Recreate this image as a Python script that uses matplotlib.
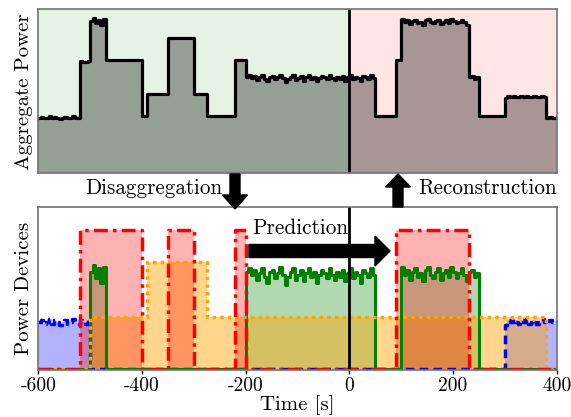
import numpy as np
import matplotlib.pyplot as plt
from matplotlib.patches import FancyArrow

plt.rcParams['font.family'] = 'cmr10'
plt.rcParams['axes.unicode_minus'] = False
plt.rcParams['mathtext.fontset'] = 'cm'

# time grid [s]
t = np.arange(-600, 401, 5)

# on-intervals and levels
red_on = [(-520, -400), (-350, -300), (-220, -200), (90, 230)]
red_level = 0.86
orange_on = [(-500, 380, 0.32), (-390, -275, 0.66)]
green_on = [(-500, -470), (-200, 50), (100, 250)]
blue_on = [(-600, -500), (300, 405)]

# noisy levels (one value per 5 s sample)
green_vals = [
    [0.60, 0.64, 0.56, 0.62, 0.53, 0.63],
    [0.60, 0.62, 0.58, 0.61, 0.55, 0.59, 0.62, 0.57, 0.53, 0.60,
     0.61, 0.56, 0.59, 0.63, 0.58, 0.52, 0.57, 0.60, 0.62, 0.55,
     0.58, 0.61, 0.54, 0.59, 0.62, 0.57, 0.60, 0.53, 0.58, 0.61,
     0.59, 0.56, 0.62, 0.58, 0.55, 0.60, 0.57, 0.61, 0.54, 0.59,
     0.62, 0.56, 0.60, 0.58, 0.53, 0.61, 0.59, 0.57, 0.62, 0.58],
    [0.63, 0.58, 0.61, 0.55, 0.60, 0.62, 0.57, 0.59, 0.54, 0.61,
     0.63, 0.58, 0.56, 0.60, 0.62, 0.55, 0.59, 0.61, 0.57, 0.63,
     0.60, 0.56, 0.59, 0.62, 0.58, 0.54, 0.60, 0.61, 0.57, 0.59],
]
blue_vals = [
    [0.29, 0.30, 0.28, 0.29, 0.31, 0.28, 0.30, 0.29, 0.27, 0.29,
     0.30, 0.28, 0.29, 0.31, 0.29, 0.28, 0.30, 0.29, 0.28, 0.30],
    [0.27, 0.30, 0.29, 0.31, 0.29, 0.28, 0.30, 0.29, 0.31, 0.28,
     0.29, 0.30, 0.28, 0.29, 0.31, 0.29, 0.28, 0.30, 0.29, 0.28, 0.30],
]

red = np.zeros(len(t))
for a, b in red_on:
    red[(t >= a) & (t < b)] = red_level
orange = np.zeros(len(t))
for a, b, lev in orange_on:
    orange[(t >= a) & (t < b)] = lev
green = np.zeros(len(t))
for (a, b), vals in zip(green_on, green_vals):
    green[(t >= a) & (t < b)] = vals
blue = np.zeros(len(t))
for (a, b), vals in zip(blue_on, blue_vals):
    blue[(t >= a) & (t < b)] = vals

total = red + orange + green + blue
agg_lo, agg_hi = -0.57, 1.96

fig = plt.figure(figsize=(5.71, 4.17), dpi=100)
ax1 = fig.add_axes([0.067, 0.584, 0.908, 0.394])
ax2 = fig.add_axes([0.067, 0.113, 0.908, 0.391])

# aggregate
ax1.axvspan(-600, 0, color='green', alpha=0.1, lw=0)
ax1.axvspan(0, 400, color='red', alpha=0.1, lw=0)
ax1.fill_between(t, total, agg_lo, step='post', color='k', alpha=0.34, lw=0)
ax1.plot(t, total, color='k', lw=2.3, drawstyle='steps-post')
ax1.axvline(0, color='k', lw=2)
ax1.set_xlim(-600, 400)
ax1.set_ylim(agg_lo, agg_hi)
ax1.set_xticks([])
ax1.set_yticks([])
ax1.set_ylabel('Aggregate Power', fontsize=15, labelpad=4)

# devices
ax2.fill_between(t, blue, 0, step='post', color='blue', alpha=0.3, lw=0)
ax2.fill_between(t, green, 0, step='post', color='green', alpha=0.3, lw=0)
ax2.fill_between(t, orange, 0, step='post', color='orange', alpha=0.45, lw=0)
ax2.fill_between(t, red, 0, step='post', color='red', alpha=0.3, lw=0)
ax2.plot(t, blue, color='blue', lw=2.5, ls=(0, (2.5, 1.5)), drawstyle='steps-post')
ax2.plot(t, green, color='green', lw=2.2, drawstyle='steps-post')
ax2.plot(t, orange, color='orange', lw=2.5, ls=(0, (1, 1.2)), drawstyle='steps-post')
ax2.plot(t, red, color='red', lw=2.5, ls=(0, (4, 1.5, 1, 1.5)), drawstyle='steps-post')
ax2.axvline(0, color='k', lw=2)
ax2.set_xlim(-600, 400)
ax2.set_ylim(-0.005, 1)
ax2.set_yticks([])
ax2.set_xticks([-600, -400, -200, 0, 200, 400])
ax2.set_xticklabels(['-600', '-400', '-200', '0', '200', '400'], fontsize=14)
ax2.tick_params(axis='x', direction='out', length=3, width=1, pad=2)
ax2.set_xlabel('Time [s]', fontsize=15, labelpad=0)
ax2.set_ylabel('Power Devices', fontsize=15, labelpad=4)

for ax in (ax1, ax2):
    for s in ax.spines.values():
        s.set_color('0.45')
        s.set_linewidth(1.2)

ax2.text(-187, 0.865, 'Prediction', fontsize=15.3, ha='left', va='center')

tr = fig.dpi_scale_trans
fig.patches.append(FancyArrow(2.49, 1.66, 1.41, 0, width=0.13, head_width=0.30,
                              head_length=0.15, length_includes_head=True,
                              color='k', transform=tr, figure=fig))
fig.patches.append(FancyArrow(2.35, 2.43, 0, -0.35, width=0.10, head_width=0.25,
                              head_length=0.14, length_includes_head=True,
                              color='k', transform=tr, figure=fig))
fig.patches.append(FancyArrow(3.98, 2.10, 0, 0.33, width=0.10, head_width=0.25,
                              head_length=0.13, length_includes_head=True,
                              color='k', transform=tr, figure=fig))

fig.text(222 / 571, 1 - 188 / 417, 'Disaggregation', fontsize=15.2, ha='right', va='center')
fig.text(418 / 571, 1 - 188 / 417, 'Reconstruction', fontsize=15.2, ha='left', va='center')

fig.savefig('out.png', dpi=100)
